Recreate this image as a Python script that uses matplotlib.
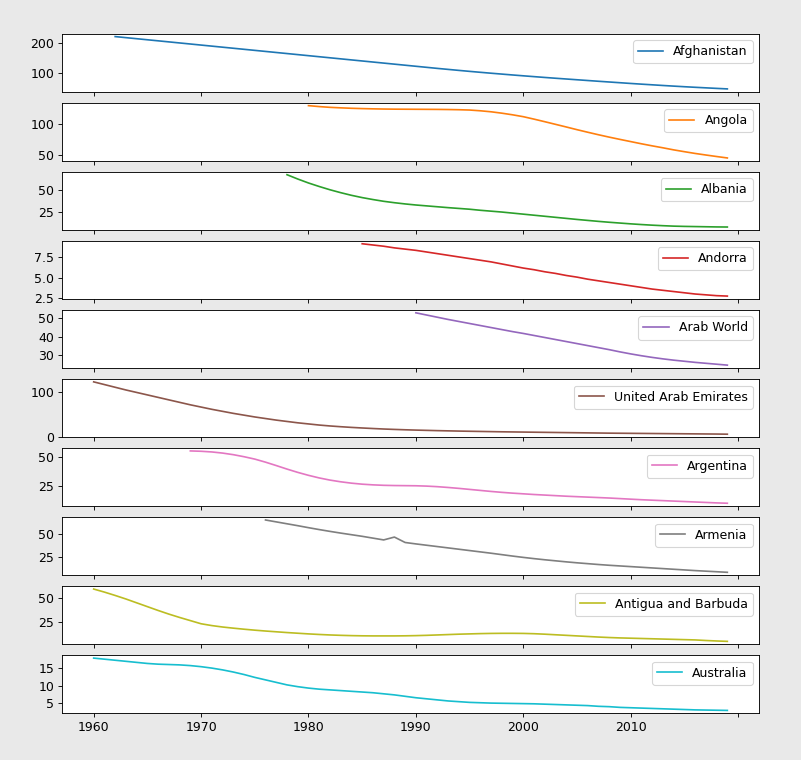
import numpy as np
import matplotlib
matplotlib.use("Agg")
import matplotlib.pyplot as plt
from matplotlib.ticker import FuncFormatter

nan = np.nan
years = [str(y) for y in range(1960, 2020)]

afghanistan = [220.0, 216.5, 213.0, 209.5, 206.0, 202.5, 199.0, 195.5, 192.0, 188.5,
               185.0, 181.5, 178.0, 174.5, 171.0, 167.5, 164.0, 160.5, 157.0, 153.5,
               150.0, 146.5, 143.0, 139.5, 136.0, 132.5, 129.0, 125.5, 122.0, 118.5,
               115.0, 111.7, 108.4, 105.2, 102.1, 99.1, 96.2, 93.3, 90.5, 87.8,
               85.1, 82.5, 80.0, 77.5, 75.0, 72.5, 70.1, 67.7, 65.3, 63.0,
               60.8, 58.6, 56.5, 54.5, 52.6, 50.8, 49.0, 47.3]  # 1962-2019
angola = [129.0, 127.5, 126.3, 125.5, 124.8, 124.3, 123.9, 123.6, 123.4, 123.3,
          123.2, 123.1, 123.0, 122.8, 122.5, 122.0, 120.8, 119.2, 117.0, 114.4,
          111.4, 107.5, 103.4, 99.2, 95.0, 90.7, 86.6, 82.6, 78.8, 75.2,
          71.7, 68.2, 64.9, 61.8, 58.5, 55.6, 52.8, 50.3, 47.9, 45.6]  # 1980-2019
albania = [67.4, 62.5, 58.0, 54.0, 50.3, 47.0, 44.0, 41.4, 39.2, 37.2,
           35.6, 34.2, 33.0, 32.0, 31.0, 30.0, 29.1, 28.2, 27.0, 26.0,
           25.0, 23.8, 22.6, 21.4, 20.2, 19.0, 17.8, 16.6, 15.5, 14.4,
           13.4, 12.5, 11.6, 10.8, 10.1, 9.5, 9.0, 8.7, 8.5, 8.3,
           8.1, 8.0]  # 1978-2019
andorra = [9.1, 8.95, 8.8, 8.6, 8.45, 8.3, 8.1, 7.9, 7.7, 7.5,
           7.3, 7.1, 6.9, 6.65, 6.4, 6.15, 5.95, 5.7, 5.5, 5.25,
           5.05, 4.8, 4.6, 4.4, 4.2, 4.0, 3.8, 3.6, 3.45, 3.3,
           3.15, 3.0, 2.9, 2.8, 2.75]  # 1985-2019
arab_world = [53.0, 51.8, 50.6, 49.4, 48.3, 47.2, 46.1, 45.0, 43.9, 42.8,
              41.8, 40.7, 39.6, 38.5, 37.4, 36.3, 35.2, 34.1, 33.0, 31.8,
              30.7, 29.7, 28.8, 28.0, 27.3, 26.7, 26.1, 25.6, 25.1, 24.6]  # 1990-2019
uae = [122.0, 116.0, 110.0, 104.0, 98.5, 93.0, 87.5, 82.0, 76.5, 71.0,
       66.0, 61.0, 56.5, 52.0, 48.0, 44.0, 40.5, 37.0, 34.0, 31.0,
       28.5, 26.0, 24.0, 22.3, 20.8, 19.5, 18.3, 17.2, 16.3, 15.5,
       14.8, 14.2, 13.6, 13.1, 12.6, 12.2, 11.8, 11.4, 11.0, 10.7,
       10.4, 10.1, 9.8, 9.5, 9.2, 8.9, 8.6, 8.3, 8.0, 7.8,
       7.6, 7.4, 7.2, 7.0, 6.8, 6.6, 6.4, 6.2, 6.0, 5.7]  # 1960-2019
argentina = [55.5, 55.2, 54.6, 53.6, 52.2, 50.4, 48.3, 45.6, 42.6, 39.5,
             36.6, 34.0, 31.7, 29.8, 28.3, 27.1, 26.2, 25.6, 25.2, 25.0,
             24.9, 24.8, 24.5, 24.0, 23.3, 22.5, 21.6, 20.7, 19.8, 19.0,
             18.3, 17.7, 17.1, 16.6, 16.1, 15.6, 15.2, 14.8, 14.4, 14.0,
             13.5, 13.0, 12.5, 12.1, 11.7, 11.3, 10.9, 10.5, 10.1, 9.7,
             9.4]  # 1969-2019
armenia = [64.5, 62.5, 60.5, 58.5, 56.4, 54.4, 52.5, 50.7, 49.0, 47.3,
           45.4, 43.5, 46.5, 40.8, 39.3, 37.9, 36.5, 35.1, 33.7, 32.3,
           30.9, 29.5, 28.0, 26.5, 25.1, 23.8, 22.6, 21.5, 20.4, 19.4,
           18.5, 17.6, 16.8, 16.1, 15.4, 14.7, 14.0, 13.3, 12.6, 11.9,
           11.2, 10.6, 10.0, 9.4]  # 1976-2019
antigua = [59.2, 56.0, 52.5, 48.8, 44.8, 40.8, 36.8, 33.0, 29.5, 26.2,
           22.9, 21.0, 19.5, 18.3, 17.2, 16.2, 15.3, 14.5, 13.7, 13.0,
           12.3, 11.7, 11.2, 10.8, 10.5, 10.3, 10.2, 10.2, 10.2, 10.3,
           10.5, 10.8, 11.2, 11.6, 12.0, 12.3, 12.6, 12.8, 12.9, 12.9,
           12.8, 12.5, 12.0, 11.4, 10.8, 10.2, 9.6, 9.0, 8.5, 8.1,
           7.8, 7.5, 7.2, 6.9, 6.6, 6.3, 6.0, 5.4, 4.9, 4.5]  # 1960-2019
australia = [17.7, 17.4, 17.1, 16.8, 16.5, 16.2, 16.0, 15.9, 15.8, 15.6,
             15.3, 14.9, 14.4, 13.8, 13.1, 12.3, 11.6, 10.9, 10.2, 9.7,
             9.3, 9.0, 8.8, 8.6, 8.4, 8.2, 8.0, 7.7, 7.4, 7.0,
             6.6, 6.3, 6.0, 5.7, 5.5, 5.3, 5.2, 5.1, 5.05, 5.0,
             4.95, 4.9, 4.8, 4.7, 4.6, 4.5, 4.4, 4.2, 4.1, 3.9,
             3.8, 3.7, 3.6, 3.5, 3.4, 3.3, 3.2, 3.15, 3.1, 3.05]  # 1960-2019

names = ["Afghanistan", "Angola", "Albania", "Andorra", "Arab World",
         "United Arab Emirates", "Argentina", "Armenia",
         "Antigua and Barbuda", "Australia"]
series = [afghanistan, angola, albania, andorra, arab_world, uae,
          argentina, armenia, antigua, australia]


def pad(v):
    return [nan] * (len(years) - len(v)) + list(v)


plt.rcParams["font.family"] = ["DejaVu Sans"]
plt.rcParams["font.size"] = 11.3
fig, axes = plt.subplots(len(names), 1, sharex=True, figsize=(801 / 80, 760 / 80), dpi=80)
fig.patch.set_facecolor("#e9e9e9")
fig.subplots_adjust(left=0.0774, right=0.9476, top=0.9553, bottom=0.0618, hspace=0.2)

x = np.arange(len(years))
for i, (ax, name, vals) in enumerate(zip(axes, names, series)):
    ax.plot(x, pad(vals), color=f"C{i}", label=name)
    ax.legend(loc="upper right")
    ax.set_facecolor("white")


def fmt(v, pos):
    i = int(round(v))
    if 0 <= i < len(years) and abs(v - i) < 1e-6:
        return years[i]
    return ""


axes[-1].set_xticks(np.arange(0, 61, 10))
axes[-1].xaxis.set_major_formatter(FuncFormatter(fmt))
axes[-1].set_xlim(-0.05 * 59, 59 + 0.05 * 59)

fig.savefig("out.png", dpi=80, facecolor=fig.get_facecolor())
